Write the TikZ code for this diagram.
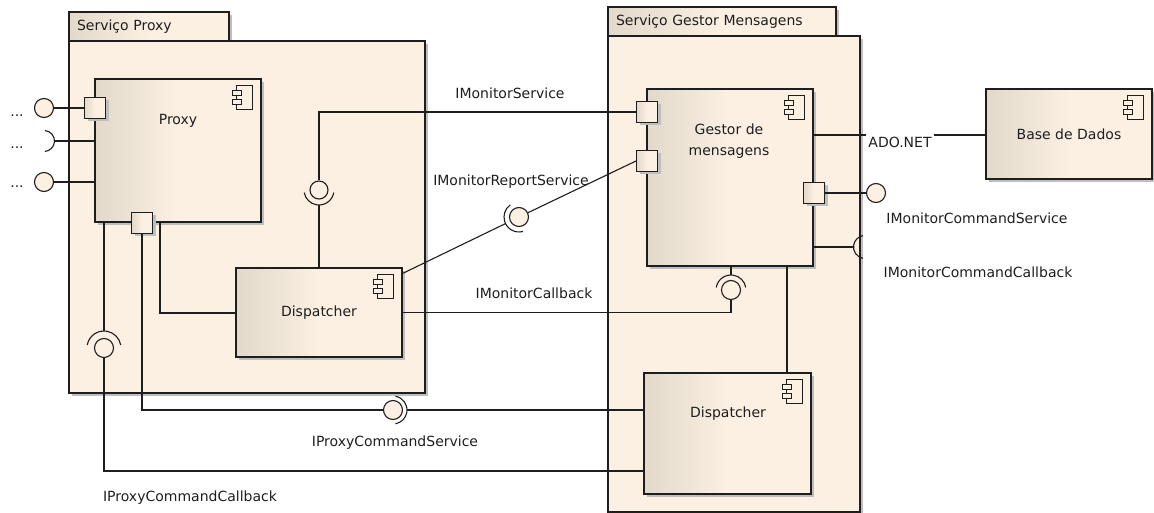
\documentclass[tikz,border=0pt]{standalone}
\usepackage{fontspec}
\setmainfont{DejaVu Sans}
\usetikzlibrary{shadows}

\definecolor{pkgfill}{RGB}{251,240,225}
\definecolor{compdark}{RGB}{226,217,202}
\definecolor{shade}{RGB}{190,190,190}
\definecolor{ink}{RGB}{30,30,30}

\tikzset{
  compicon/.pic={
    \draw[fill=pkgfill] (-8,-12) rectangle (8,12);
    \draw[fill=pkgfill] (-12,-7) rectangle (-3,-2);
    \draw[fill=pkgfill] (-12,2) rectangle (-3,7);
  }
}

\begin{document}
\begin{tikzpicture}[x=1pt,y=-1pt,color=ink,line width=1.1pt,
  every node/.style={font=\fontsize{14}{21}\selectfont},
  boxshadow/.style={general shadow={fill=shade,shadow xshift=3pt,shadow yshift=-3pt}},
  pkg/.style={draw,fill=pkgfill,boxshadow},
  tab/.style={draw,left color=compdark,right color=pkgfill,middle color=pkgfill,
    boxshadow,align=left,inner xsep=8pt,minimum height=29pt},
  comp/.style={draw,left color=compdark,right color=pkgfill,middle color=pkgfill,boxshadow},
  port/.style={comp,minimum size=21pt,inner sep=0pt},
  ball/.style={circle,draw,fill=pkgfill,minimum size=19pt,inner sep=0pt}]
  \useasboundingbox (0,0) rectangle (1154,513);

  % packages
  \node[tab,text width=144pt] (tabL) at (149,26.5) {Serviço Proxy};
  \node[pkg,minimum width=356pt,minimum height=352pt] (pkgL) at (247,217) {};
  \node[tab,text width=212pt] (tabR) at (722,21.5) {Serviço Gestor Mensagens};
  \node[pkg,minimum width=252pt,minimum height=476pt] (pkgR) at (734,274) {};

  % components
  \node[comp,minimum width=166pt,minimum height=143pt] (proxy) at (178,150.5) {};
  \node (proxyT) at (178,121) {Proxy};
  \node[comp,minimum width=166pt,minimum height=89pt] (dispL) at (319,312.5) {Dispatcher};
  \node[comp,minimum width=166pt,minimum height=177pt] (gm) at (730,177.5) {};
  \node[align=center] (gmT) at (729,141) {Gestor de\\mensagens};
  \node[comp,minimum width=167pt,minimum height=121pt] (dispR) at (727.5,433.5) {};
  \node (dispRT) at (728,414) {Dispatcher};
  \node[comp,minimum width=166pt,minimum height=90pt] (bd) at (1069,134) {Base de Dados};
  \foreach \c in {proxy,dispL,gm,dispR,bd}
    \pic at ([shift={(-17,19)}]\c.north east) {compicon};

  % ports
  \node[port] (pP1) at (95,108) {};
  \node[port] (pP2) at (142,223) {};
  \node[port] (pG1) at (647,112) {};
  \node[port] (pG2) at (647,161) {};
  \node[port] (pG3) at (814,193) {};

  % open interfaces on the left
  \node[ball] (b1) at (44,108) {};
  \coordinate (s1) at (44,141);
  \node[ball] (b3) at (44,182) {};
  \draw ([shift={(-85:10.5)}]s1) arc[start angle=-85,end angle=85,radius=10.5];
  \node[anchor=base] (d1) at (17,117) {...};
  \node[anchor=base] (d2) at (17,149) {...};
  \node[anchor=base] (d3) at (17,188) {...};
  \draw (b1) -- (pP1);
  \draw ([shift={(10.5,0)}]s1) -- (proxy.west |- s1);
  \draw (b3) -- (proxy.west |- b3);

  % IMonitorService
  \node[ball,minimum size=18pt] (bIMS) at (319,190) {};
  \coordinate (sIMS) at (319,205);
  \draw ([shift={(10:15)}]bIMS.center) arc[start angle=10,end angle=170,radius=15];
  \draw (pG1.west) -- (bIMS |- pG1) -- (bIMS);
  \draw (dispL.north) -- (sIMS);
  \node (lIMS) at (510,93) {IMonitorService};

  % IMonitorReportService
  \node[ball] (bIRS) at (519,217) {};
  \coordinate (sIRS) at ([shift={(154:15)}]bIRS.center);
  \draw ([shift={(74:15)}]bIRS.center) arc[start angle=74,end angle=234,radius=15];
  \draw (pG2.west) -- (bIRS);
  \draw ([shift={(0,6)}]dispL.north east) -- (sIRS);
  \node (lIRS) at (511,182) {IMonitorReportService};

  % IMonitorCallback
  \node[ball] (bIMC) at (731,290) {};
  \coordinate (sIMC) at (731,275);
  \draw ([shift={(190:15)}]bIMC.center) arc[start angle=190,end angle=350,radius=15];
  \draw (gm.south -| sIMC) -- (sIMC);
  \draw (bIMC) -- (bIMC |- dispL.east) -- (dispL.east);
  \node (lIMC) at (534,293) {IMonitorCallback};

  % Gestor to Dispatcher
  \coordinate (gd) at (787,300);
  \draw (gm.south -| gd) -- (dispR.north -| gd);

  % ADO.NET
  \node[anchor=north,inner sep=2pt] (ado) at (900,135) {ADO.NET};
  \draw (gm.east |- ado.north) -- (ado.north west);
  \draw (ado.north east) -- (bd.west |- ado.north);

  % IMonitorCommandService
  \node[ball] (bICS) at (876,193) {};
  \draw (pG3) -- (bICS);
  \node (lICS) at (977,218) {IMonitorCommandService};

  % IMonitorCommandCallback
  \coordinate (sICC) at (865,247);
  \draw ([shift={(100:11.5)}]sICC) arc[start angle=100,end angle=260,radius=11.5];
  \draw (gm.east |- sICC) -- ([shift={(-11.5,0)}]sICC);
  \node (lICC) at (978,272) {IMonitorCommandCallback};

  % IProxyCommandService
  \node[ball] (bIPS) at (393,410) {};
  \draw ([shift={(-80:14)}]bIPS.center) arc[start angle=-80,end angle=80,radius=14];
  \draw (pP2) -- (pP2 |- bIPS) -- (bIPS);
  \draw ([shift={(14,0)}]bIPS.center) -- (dispR.west |- bIPS);
  \node (lIPS) at (395,443) {IProxyCommandService};

  % IProxyCommandCallback
  \node[ball] (bIPC) at (104,348) {};
  \coordinate (cb) at (104,471);
  \draw ([shift={(190:17)}]bIPC.center) arc[start angle=190,end angle=350,radius=17];
  \draw (proxy.south -| bIPC) -- ([shift={(0,-17)}]bIPC.center);
  \draw (bIPC) -- (cb) -- (dispR.west |- cb);
  \node (lIPC) at (190,498) {IProxyCommandCallback};

  % Proxy to Dispatcher
  \coordinate (pd) at (160,313);
  \draw (proxy.south -| pd) -- (pd) -- (dispL.west |- pd);
\end{tikzpicture}
\end{document}
